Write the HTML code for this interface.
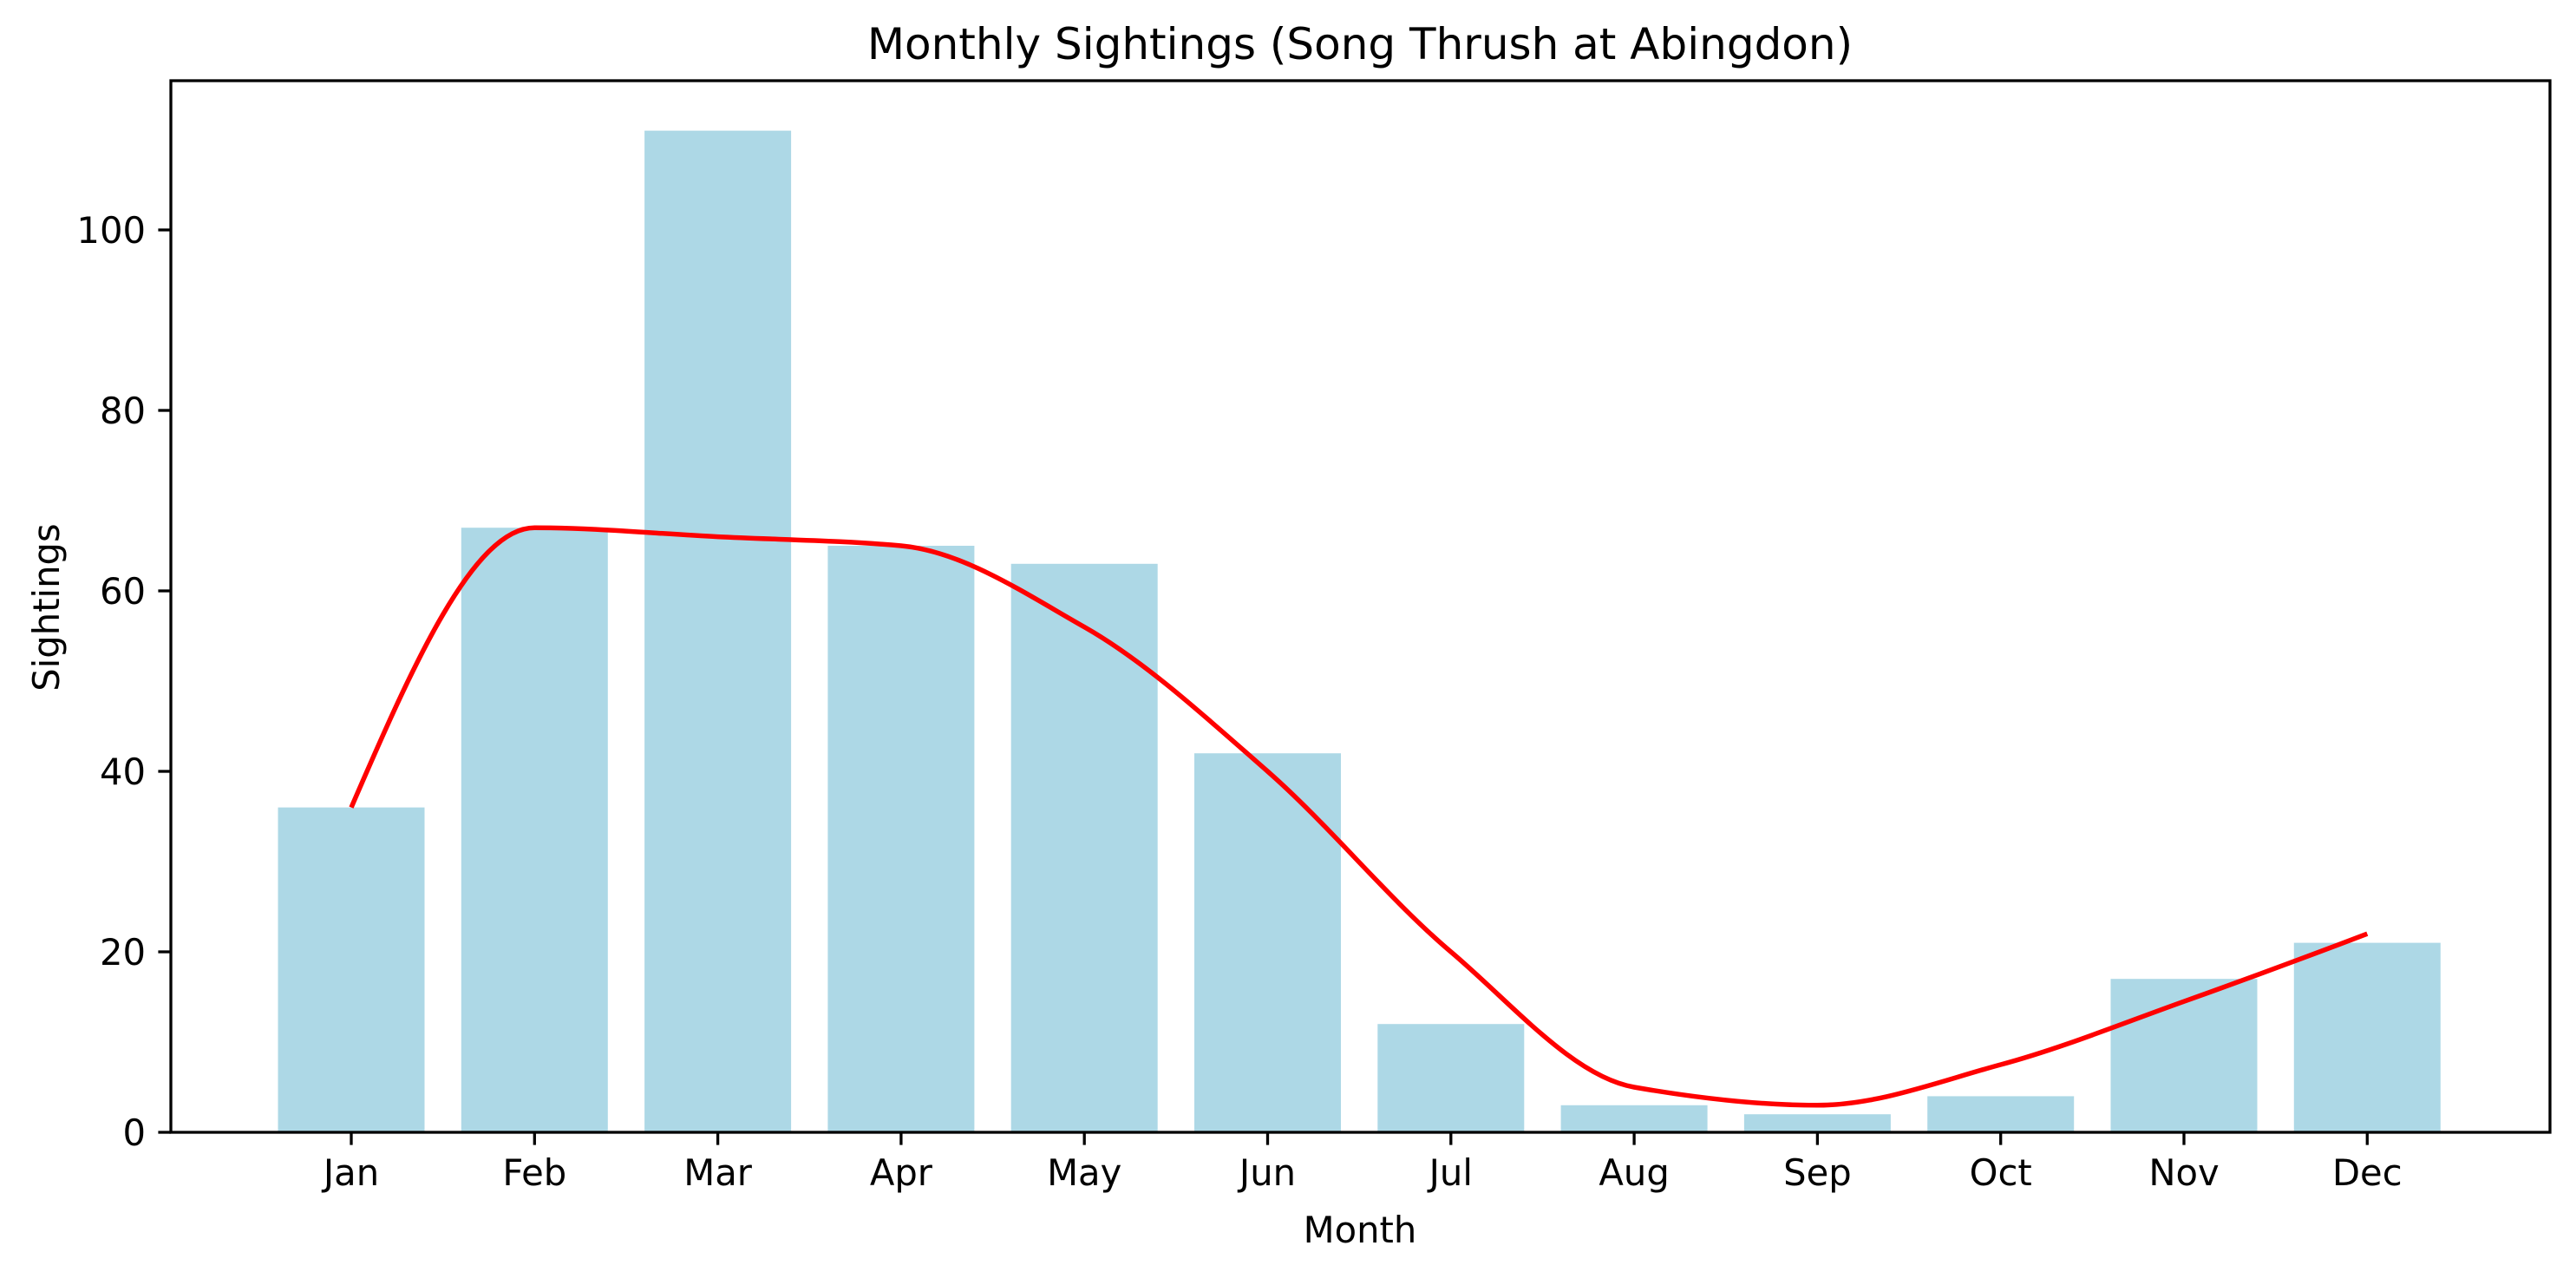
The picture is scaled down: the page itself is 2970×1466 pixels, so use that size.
<!DOCTYPE html>
<html><head><meta charset="utf-8"><style>
html,body{margin:0;padding:0;background:#fff}
svg{display:block}
text{font-family:"DejaVu Sans","Liberation Sans",sans-serif;fill:#000}
</style></head><body>
<svg id="s" width="2970" height="1466" viewBox="0 0 2970 1466" xmlns="http://www.w3.org/2000/svg">
<rect width="2970" height="1466" fill="#fff"/>
<g id="bars" fill="#add8e6"></g>
<path id="ln" fill="none" stroke="#ff0000" stroke-width="5.5" stroke-linejoin="round" stroke-linecap="butt"/>
<rect x="197" y="93" width="2743" height="1212" fill="none" stroke="#000" stroke-width="3.3"/>
<g id="ticks" stroke="#000" stroke-width="3.3"></g>
<g id="lbl" font-size="41.7"></g>
<text x="1568" y="68" font-size="50" text-anchor="middle">Monthly Sightings (Song Thrush at Abingdon)</text>
<text x="1568" y="1432" font-size="41.7" text-anchor="middle">Month</text>
<text transform="translate(68,700) rotate(-90)" font-size="41.7" text-anchor="middle">Sightings</text>
</svg>
<script>
var NS="http://www.w3.org/2000/svg";
function el(t,a,p){var e=document.createElementNS(NS,t);for(var k in a)e.setAttribute(k,a[k]);p.appendChild(e);return e;}
var y0=1305,k=10.4,x0=405,dx=211.3;
function X(i){return x0+dx*i}function Y(v){return y0-k*v}
var m=["Jan","Feb","Mar","Apr","May","Jun","Jul","Aug","Sep","Oct","Nov","Dec"];
var d=[36,67,111,65,63,42,12,3,2,4,17,21];
var L=[36,67,66,65,56,40,20,5,3,7.5,14.5,22];
var bars=document.getElementById("bars"),tk=document.getElementById("ticks"),lb=document.getElementById("lbl");
for(var i=0;i<12;i++){
 el("rect",{x:X(i)-84.5,y:Y(d[i]),width:169,height:k*d[i]},bars);
 el("line",{x1:X(i),y1:y0,x2:X(i),y2:y0+14.6},tk);
 var t=el("text",{x:X(i),y:1366,"text-anchor":"middle"},lb);t.textContent=m[i];
}
for(var v=0;v<=100;v+=20){
 el("line",{x1:197,y1:Y(v),x2:197-14.6,y2:Y(v)},tk);
 var t=el("text",{x:168,y:Y(v)+15,"text-anchor":"end"},lb);t.textContent=v;
}
var n=L.length,dl=[],ms=[];
for(var i=0;i<n-1;i++)dl.push(L[i+1]-L[i]);
for(var i=1;i<n-1;i++){
 if(dl[i-1]*dl[i]<=0)ms[i]=0;
 else{ms[i]=2/(1/dl[i-1]+1/dl[i]);}
}
function endS(d0,d1){var s=(3*d0-d1)/2;if(s*d0<=0)return 0;if(d0*d1<0&&Math.abs(s)>Math.abs(3*d0))return 3*d0;return s;}
ms[0]=endS(dl[0],dl[1]);ms[n-1]=endS(dl[n-2],dl[n-3]);
var s="M"+X(0)+","+Y(L[0]);
for(var i=0;i<n-1;i++){
 s+=" C"+(X(i)+dx/3)+","+Y(L[i]+ms[i]/3)+" "+(X(i+1)-dx/3)+","+Y(L[i+1]-ms[i+1]/3)+" "+X(i+1)+","+Y(L[i+1]);
}
document.getElementById("ln").setAttribute("d",s);
</script>
</body></html>
